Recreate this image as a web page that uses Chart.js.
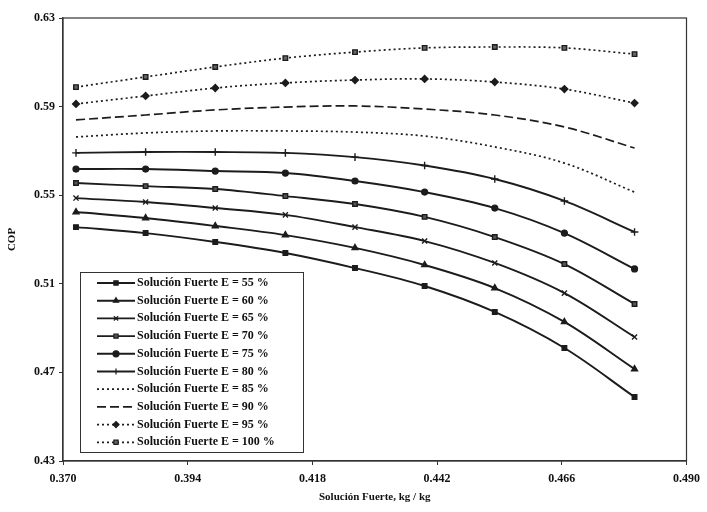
<!DOCTYPE html>
<html>
<head>
<meta charset="utf-8">
<script src="https://cdn.jsdelivr.net/npm/chart.js@4"></script>
<style>
  html, body { margin: 0; padding: 0; background: #fff; }
  #wrap { width: 707px; height: 512px; }
</style>
</head>
<body>
<div id="wrap"><canvas id="chart" width="707" height="512"></canvas></div>
<script>
"use strict";

// ── Data ───────────────────────────────────────────────────
const xValues = [0.3725, 0.3859, 0.3993, 0.4128, 0.4262, 0.4396, 0.4531, 0.4665, 0.4800];
const xTicks = [0.370, 0.394, 0.418, 0.442, 0.466, 0.490];
const yTicks = [0.43, 0.47, 0.51, 0.55, 0.59, 0.63];

const labels = [
  "Solución Fuerte E = 55 %", "Solución Fuerte E = 60 %", "Solución Fuerte E = 65 %",
  "Solución Fuerte E = 70 %", "Solución Fuerte E = 75 %", "Solución Fuerte E = 80 %",
  "Solución Fuerte E = 85 %", "Solución Fuerte E = 90 %", "Solución Fuerte E = 95 %",
  "Solución Fuerte E = 100 %",
];

const cop55  = [0.5356, 0.5329, 0.5289, 0.5239, 0.5171, 0.5090, 0.4973, 0.4810, 0.4589];
const cop60  = [0.5424, 0.5397, 0.5361, 0.5320, 0.5262, 0.5185, 0.5081, 0.4928, 0.4715];
const cop65  = [0.5487, 0.5469, 0.5442, 0.5411, 0.5356, 0.5293, 0.5194, 0.5058, 0.4860];
const cop70  = [0.5555, 0.5541, 0.5528, 0.5496, 0.5460, 0.5402, 0.5311, 0.5189, 0.5009];
const cop75  = [0.5618, 0.5618, 0.5609, 0.5600, 0.5564, 0.5514, 0.5442, 0.5329, 0.5167];
const cop80  = [0.5691, 0.5695, 0.5695, 0.5691, 0.5672, 0.5634, 0.5573, 0.5474, 0.5334];
const cop85  = [0.5763, 0.5781, 0.5790, 0.5790, 0.5785, 0.5767, 0.5718, 0.5645, 0.5514];
const cop90  = [0.5840, 0.5862, 0.5885, 0.5898, 0.5903, 0.5889, 0.5862, 0.5808, 0.5713];
const cop95  = [0.5912, 0.5948, 0.5984, 0.6007, 0.6020, 0.6025, 0.6011, 0.5979, 0.5916];
const cop100 = [0.5988, 0.6034, 0.6079, 0.6119, 0.6146, 0.6165, 0.6169, 0.6165, 0.6137];

const series = [cop55, cop60, cop65, cop70, cop75, cop80, cop85, cop90, cop95, cop100];

// ── Styles per series ──────────────────────────────────────
const INK = "#1c1c1c";
const FONT = "'Liberation Serif', 'DejaVu Serif', serif";
const styles = [
  { point: "rect",      r: 3.2, dash: [],     fill: INK },
  { point: "triangle",  r: 3.4, dash: [],     fill: INK },
  { point: "crossRot",  r: 3.6, dash: [],     fill: INK },
  { point: "rect",      r: 3.2, dash: [],     fill: "#555" },
  { point: "circle",    r: 2.9, dash: [],     fill: INK },
  { point: "cross",     r: 3.8, dash: [],     fill: INK },
  { point: false,       r: 0,   dash: [2, 3], fill: INK },
  { point: false,       r: 0,   dash: [9, 4], fill: INK },
  { point: "rectRot",   r: 3.4, dash: [2, 3], fill: INK },
  { point: "rect",      r: 3.2, dash: [2, 3], fill: "#666" },
];

const datasets = series.map((vals, i) => {
  const s = styles[i];
  return {
    label: labels[i],
    data: vals.map((y, k) => ({ x: xValues[k], y })),
    borderColor: INK,
    backgroundColor: s.fill,
    borderWidth: s.dash.length ? 1.7 : 1.9,
    borderDash: s.dash,
    tension: 0.35,
    pointStyle: s.point,
    pointRadius: s.r,
    pointBorderColor: INK,
    pointBackgroundColor: s.fill,
    pointBorderWidth: 1.4,
  };
});

// Frame the plot on all four sides.
const frame = {
  id: "frame",
  afterDatasetsDraw(chart) {
    const a = chart.chartArea;
    const ctx = chart.ctx;
    ctx.save();
    ctx.strokeStyle = "#333";
    ctx.lineWidth = 1.2;
    ctx.strokeRect(a.left, a.top, a.right - a.left, a.bottom - a.top);
    ctx.restore();
  },
};

// Boxed legend in the lower left of the plot.
const boxLegend = {
  id: "boxLegend",
  afterDraw(chart) {
    const ctx = chart.ctx;
    const x0 = 80, y0 = 272, w = 223, h = 180;
    ctx.save();
    ctx.fillStyle = "#fff";
    ctx.fillRect(x0, y0, w, h);
    ctx.strokeStyle = "#333";
    ctx.lineWidth = 1;
    ctx.strokeRect(x0 + 0.5, y0 + 0.5, w, h);
    chart.data.datasets.forEach((ds, i) => {
      const cy = y0 + 11 + i * 17.7;
      ctx.strokeStyle = INK;
      ctx.lineWidth = ds.borderWidth;
      ctx.setLineDash(ds.borderDash);
      ctx.beginPath();
      ctx.moveTo(97, cy);
      ctx.lineTo(135, cy);
      ctx.stroke();
      ctx.setLineDash([]);
      if (ds.pointStyle) {
        ctx.fillStyle = ds.pointBackgroundColor;
        ctx.strokeStyle = INK;
        ctx.lineWidth = 1.2;
        Chart.helpers.drawPoint(ctx, { pointStyle: ds.pointStyle, radius: 3, borderWidth: 1.2 }, 116, cy);
      }
      ctx.fillStyle = "#111";
      ctx.font = "bold 12px " + FONT;
      ctx.textBaseline = "middle";
      ctx.textAlign = "left";
      ctx.fillText(ds.label, 137, cy);
    });
    ctx.restore();
  },
};

const tickFont = { family: FONT, size: 12, weight: "bold" };

new Chart(document.getElementById("chart"), {
  type: "line",
  data: { datasets },
  options: {
    responsive: false,
    animation: false,
    layout: { padding: { top: 18, right: 15, left: 4, bottom: 4 } },
    plugins: { legend: { display: false }, tooltip: { enabled: false } },
    scales: {
      x: {
        type: "linear",
        min: 0.370, max: 0.490,
        afterBuildTicks: (s) => { s.ticks = xTicks.map((v) => ({ value: v })); },
        afterFit: (s) => { s.height = 47; },
        ticks: { color: "#111", font: tickFont, padding: 7, callback: (v) => v.toFixed(3), maxRotation: 0 },
        grid: { display: true, drawOnChartArea: false, drawTicks: true, tickLength: 4, color: "#333" },
        border: { color: "#333", width: 1.2 },
        title: { display: true, text: "Solución Fuerte, kg / kg", color: "#111", font: { family: FONT, size: 11, weight: "bold" }, padding: { top: 9 } },
      },
      y: {
        type: "linear",
        min: 0.43, max: 0.63,
        afterBuildTicks: (s) => { s.ticks = yTicks.map((v) => ({ value: v })); },
        afterFit: (s) => { s.width = 59; },
        ticks: { color: "#111", font: tickFont, padding: 4, callback: (v) => v.toFixed(2) },
        grid: { display: true, drawOnChartArea: false, drawTicks: true, tickLength: 4, color: "#333" },
        border: { color: "#333", width: 1.2 },
        title: { display: true, text: "COP", color: "#111", font: { family: FONT, size: 11, weight: "bold" }, padding: { top: 2 } },
      },
    },
  },
  plugins: [frame, boxLegend],
});
</script>
</body>
</html>
